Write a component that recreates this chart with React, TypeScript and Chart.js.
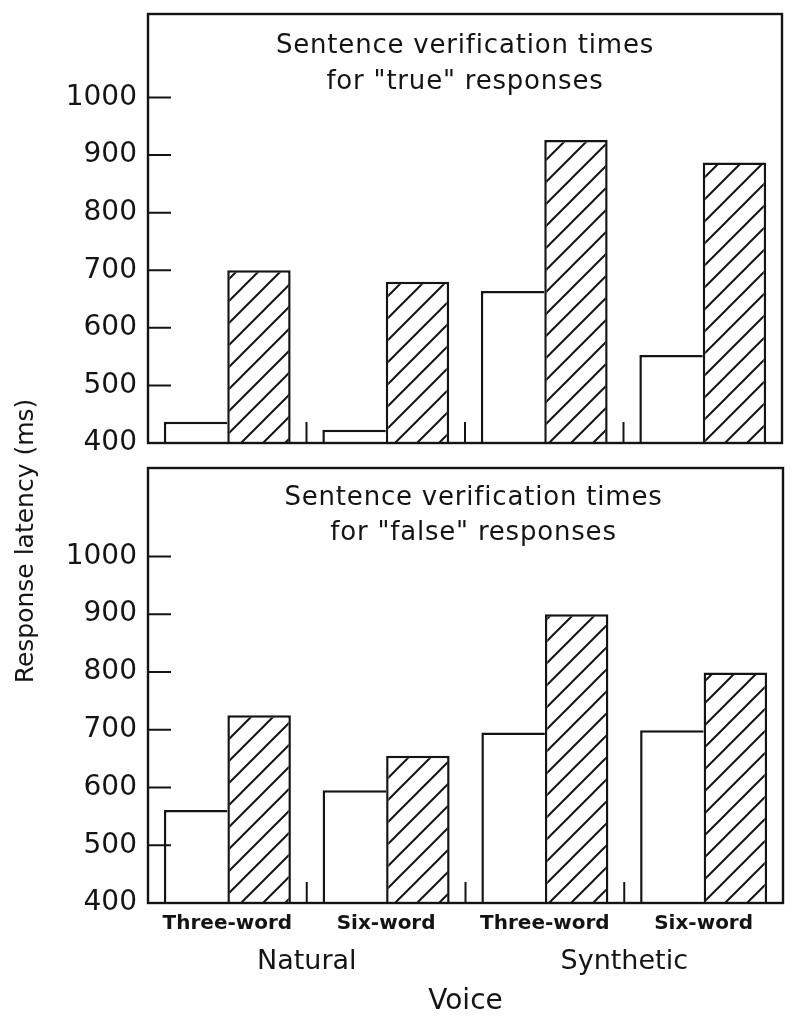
import React, { useEffect, useRef } from 'react';
import { Chart, registerables } from 'chart.js';

Chart.register(...registerables);

// ---- data ----
const subCategories = ['Three-word', 'Six-word', 'Three-word', 'Six-word'];
const voiceGroups = ['Natural', 'Synthetic'];
const yTickValues = [400, 500, 600, 700, 800, 900, 1000];
const trueOpen = [437, 423, 664, 553];
const trueHatched = [700, 680, 926, 887];
const falseOpen = [561, 595, 695, 699];
const falseHatched = [725, 655, 900, 799];
const trueTitle = ['Sentence verification times', 'for "true" responses'];
const falseTitle = ['Sentence verification times', 'for "false" responses'];
const yAxisTitle = 'Response latency (ms)';
const xAxisTitle = 'Voice';

const INK = '#141414';
const FAMILY = '"DejaVu Sans", sans-serif';

function makeHatch(): CanvasPattern | string {
  const s = 22;
  const c = document.createElement('canvas');
  c.width = s;
  c.height = s;
  const g = c.getContext('2d');
  if (!g) return '#fff';
  g.fillStyle = '#ffffff';
  g.fillRect(0, 0, s, s);
  g.strokeStyle = INK;
  g.lineWidth = 2;
  g.beginPath();
  g.moveTo(0, s);
  g.lineTo(s, 0);
  g.moveTo(-s / 2, s / 2);
  g.lineTo(s / 2, -s / 2);
  g.moveTo(s / 2, s * 1.5);
  g.lineTo(s * 1.5, s / 2);
  g.stroke();
  return g.createPattern(c, 'repeat') || '#fff';
}

function decorPlugin(title: string[], dx: number, lineY: number[]) {
  return {
    id: 'panelDecor',
    afterDatasetsDraw(chart: any) {
      const { ctx, chartArea: a, scales } = chart;
      const x = scales.x;
      const y = scales.y;
      ctx.save();
      ctx.strokeStyle = INK;
      ctx.lineWidth = 2.4;
      ctx.strokeRect(a.left, a.top, a.right - a.left, a.bottom - a.top);
      ctx.lineWidth = 2;
      ctx.beginPath();
      for (const t of y.ticks) {
        const py = y.getPixelForValue(t.value);
        ctx.moveTo(a.left, py);
        ctx.lineTo(a.left + 23, py);
      }
      for (let i = 1; i < subCategories.length; i++) {
        const px = (x.getPixelForValue(i - 1) + x.getPixelForValue(i)) / 2;
        ctx.moveTo(px, a.bottom);
        ctx.lineTo(px, a.bottom - 21);
      }
      ctx.stroke();
      ctx.fillStyle = INK;
      ctx.font = '26px ' + FAMILY;
      ctx.textAlign = 'center';
      ctx.textBaseline = 'middle';
      try { (ctx as any).letterSpacing = '0.8px'; } catch (e) { /* ignore */ }
      const cx = (a.left + a.right) / 2 + dx;
      title.forEach((line, i) => ctx.fillText(line, cx, a.top + lineY[i]));
      ctx.restore();
    },
  };
}

const yTitlePlugin = {
  id: 'yTitle',
  afterDraw(chart: any) {
    const { ctx } = chart;
    ctx.save();
    ctx.translate(26, 541);
    ctx.rotate(-Math.PI / 2);
    ctx.fillStyle = INK;
    ctx.font = '25px ' + FAMILY;
    ctx.textAlign = 'center';
    ctx.textBaseline = 'middle';
    ctx.fillText(yAxisTitle, 0, 0);
    ctx.restore();
  },
};

function makeDatasets(open: number[], hatched: number[], hatch: any) {
  return [
    {
      label: 'open',
      data: open,
      backgroundColor: '#ffffff',
      borderColor: INK,
      borderWidth: 2.5,
      borderSkipped: 'right',
      categoryPercentage: 0.8,
      barPercentage: 1,
    },
    {
      label: 'hatched',
      data: hatched,
      backgroundColor: hatch,
      borderColor: INK,
      borderWidth: 2.5,
      categoryPercentage: 0.8,
      barPercentage: 1,
    },
  ];
}

function yScale(max: number) {
  return {
    min: 400,
    max,
    afterFit: (s: any) => { s.width = 148; },
    afterBuildTicks: (s: any) => { s.ticks = yTickValues.map((v) => ({ value: v })); },
    grid: { display: false, drawTicks: false },
    border: { display: false },
    ticks: {
      font: { family: FAMILY, size: 28 },
      color: INK,
      padding: 11,
      callback: (v: any) => String(v),
    },
  };
}

export default function App() {
  const topRef = useRef<HTMLCanvasElement>(null);
  const botRef = useRef<HTMLCanvasElement>(null);

  useEffect(() => {
    if (!topRef.current || !botRef.current) return;
    const hatch = makeHatch();

    // top canvas is placed at page y = -20, height 500
    const top = new Chart(topRef.current, {
      type: 'bar',
      data: { labels: subCategories, datasets: makeDatasets(trueOpen, trueHatched, hatch) as any },
      options: {
        responsive: false,
        animation: false,
        layout: { padding: { top: 34, right: 18, bottom: 37, left: 0 } },
        plugins: { legend: { display: false }, tooltip: { enabled: false } },
        scales: {
          x: { display: false },
          y: yScale(1145) as any,
        },
      },
      plugins: [decorPlugin(trueTitle, 0, [32, 68])],
    });

    const bottom = new Chart(botRef.current, {
      type: 'bar',
      data: { labels: subCategories, datasets: makeDatasets(falseOpen, falseHatched, hatch) as any },
      options: {
        responsive: false,
        animation: false,
        layout: { padding: { top: 468, right: 17, bottom: 3, left: 0 } },
        plugins: { legend: { display: false }, tooltip: { enabled: false } },
        scales: {
          x: {
            type: 'category',
            position: 'bottom',
            grid: { display: false, drawTicks: false },
            border: { display: false },
            ticks: {
              font: { family: FAMILY, size: 20, weight: 'bold' },
              color: INK,
              padding: 9,
              maxRotation: 0,
              autoSkip: false,
            },
            afterFit: (s: any) => { s.height = 33; },
          } as any,
          x2: {
            type: 'category',
            labels: voiceGroups,
            position: 'bottom',
            offset: true,
            weight: 1,
            grid: { display: false, drawTicks: false },
            border: { display: false },
            ticks: {
              font: { family: FAMILY, size: 27 },
              color: INK,
              padding: 10,
              maxRotation: 0,
              autoSkip: false,
            },
            title: {
              display: true,
              text: xAxisTitle,
              font: { family: FAMILY, size: 28 },
              color: INK,
              padding: { top: 7, bottom: 4 },
            },
            afterFit: (s: any) => { s.height = 87; },
          } as any,
          y: yScale(1153) as any,
        },
      },
      plugins: [decorPlugin(falseTitle, 8, [30, 65]), yTitlePlugin],
    });

    return () => {
      top.destroy();
      bottom.destroy();
    };
  }, []);

  return (
    <div style={{ position: 'absolute', left: 0, top: 0, width: 800, height: 1026, background: '#ffffff', overflow: 'hidden' }}>
      <canvas ref={botRef} width={800} height={1026} style={{ position: 'absolute', left: 0, top: 0, width: 800, height: 1026 }} />
      <canvas ref={topRef} width={800} height={500} style={{ position: 'absolute', left: 0, top: -20, width: 800, height: 500 }} />
    </div>
  );
}
